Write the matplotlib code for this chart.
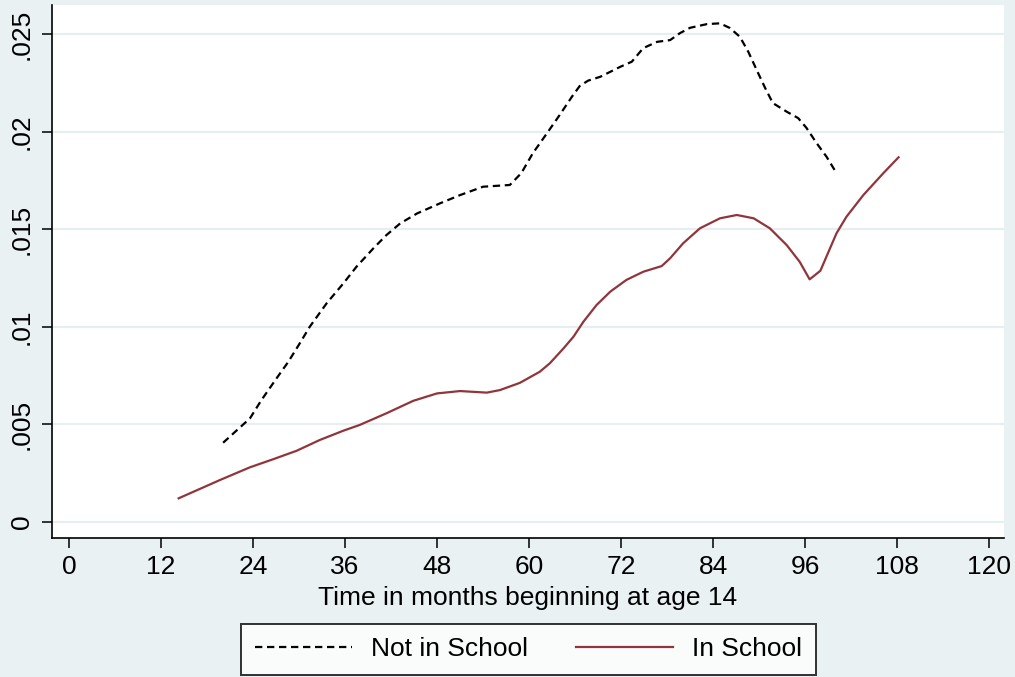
import matplotlib
matplotlib.use("Agg")
import matplotlib.pyplot as plt

# ---- data ----
not_school_months = [20.1, 23.6, 25.1, 27.1, 28.6, 30.1, 31.4, 33.6, 35.8, 37.5,
                     39.7, 41.4, 43.2, 45.4, 48.4, 51.0, 54.0, 57.5, 59.0, 60.5,
                     62.3, 64.0, 65.6, 66.6, 67.7, 69.3, 71.9, 73.4, 74.9, 76.7,
                     78.4, 79.7, 81.0, 83.2, 84.9, 86.2, 87.5, 88.6, 89.7, 90.8,
                     91.8, 93.6, 95.1, 96.2, 97.5, 98.8, 100.1]
not_school_values = [0.00405, 0.00530, 0.00624, 0.00737, 0.00820, 0.00915, 0.01000,
                     0.01120, 0.01223, 0.01308, 0.01402, 0.01470, 0.01530, 0.01581,
                     0.01633, 0.01675, 0.01718, 0.01727, 0.01788, 0.01890, 0.01990,
                     0.02086, 0.02180, 0.02234, 0.02262, 0.02282, 0.02333, 0.02359,
                     0.02429, 0.02461, 0.02470, 0.02506, 0.02533, 0.02552, 0.02556,
                     0.02532, 0.02487, 0.02410, 0.02316, 0.02224, 0.02147, 0.02103,
                     0.02070, 0.02019, 0.01942, 0.01872, 0.01788]

in_school_months = [14.3, 19.7, 23.6, 26.6, 29.7, 32.7, 35.8, 37.9, 41.4, 44.9,
                    48.0, 51.0, 54.5, 56.2, 58.8, 61.4, 62.7, 64.5, 65.8, 67.1,
                    68.8, 70.6, 72.7, 74.9, 77.3, 78.4, 80.1, 82.3, 84.9, 87.1,
                    89.3, 91.4, 93.6, 95.3, 96.6, 98.0, 100.1, 101.4, 103.6, 106.2,
                    108.2]
in_school_values = [0.00120, 0.00214, 0.00279, 0.00320, 0.00364, 0.00419, 0.00467,
                    0.00496, 0.00556, 0.00620, 0.00658, 0.00670, 0.00662, 0.00675,
                    0.00712, 0.00769, 0.00812, 0.00889, 0.00949, 0.01026, 0.01111,
                    0.01180, 0.01240, 0.01282, 0.01311, 0.01351, 0.01428, 0.01505,
                    0.01556, 0.01573, 0.01556, 0.01505, 0.01419, 0.01333, 0.01243,
                    0.01287, 0.01479, 0.01564, 0.01675, 0.01787, 0.01869]

x_ticks = [0, 12, 24, 36, 48, 60, 72, 84, 96, 108, 120]
y_ticks = [0, 0.005, 0.01, 0.015, 0.02, 0.025]
y_tick_labels = ["0", ".005", ".01", ".015", ".02", ".025"]
x_label = "Time in months beginning at age 14"
series_labels = ["Not in School", "In School"]

# ---- style ----
BG = "#EAF1F3"
GRID = "#E6EEF2"
MAROON = "#90353B"
FS = 19

plt.rcParams["font.family"] = ["Liberation Sans", "DejaVu Sans"]

fig = plt.figure(figsize=(10.15, 6.77), dpi=100, facecolor=BG)
ax = fig.add_axes([52 / 1015, 1 - 538 / 677, (1004 - 52) / 1015, (538 - 5) / 677])
ax.set_facecolor("white")

for yv in y_ticks:
    ax.axhline(yv, color=GRID, lw=1.6, zorder=0)

ax.plot(not_school_months, not_school_values, color="black", lw=1.6,
        linestyle=(0, (3.3, 2.1)), label=series_labels[0], zorder=3)
ax.plot(in_school_months, in_school_values, color=MAROON, lw=1.6,
        label=series_labels[1], zorder=3)

ax.set_xlim(-2.22, 121.95)
ax.set_ylim(-0.000836, 0.0265)

ax.set_xticks(x_ticks)
ax.set_xticklabels([str(t) for t in x_ticks])
ax.set_yticks(y_ticks)
ax.set_yticklabels(y_tick_labels, rotation=90, va="center")

for s in ["top", "right"]:
    ax.spines[s].set_visible(False)
for s in ["left", "bottom"]:
    ax.spines[s].set_linewidth(1.2)
    ax.spines[s].set_color("black")

ax.tick_params(axis="both", direction="out", length=7, width=1.1,
               labelsize=FS, colors="black")
ax.tick_params(axis="x", pad=5.5)
ax.tick_params(axis="y", pad=6)

ax.set_xlabel(x_label, fontsize=FS, labelpad=4.5)

leg = fig.legend(loc="center", bbox_to_anchor=(528.5 / 1015, 1 - 649.5 / 677),
                 ncol=2, fontsize=FS, frameon=True, fancybox=False,
                 handlelength=3.7, handletextpad=0.72, columnspacing=1.8,
                 borderpad=0.5, borderaxespad=0)
leg.get_frame().set_edgecolor("black")
leg.get_frame().set_linewidth(1.4)
leg.get_frame().set_facecolor("white")

fig.savefig("out.png", dpi=100, facecolor=BG)
